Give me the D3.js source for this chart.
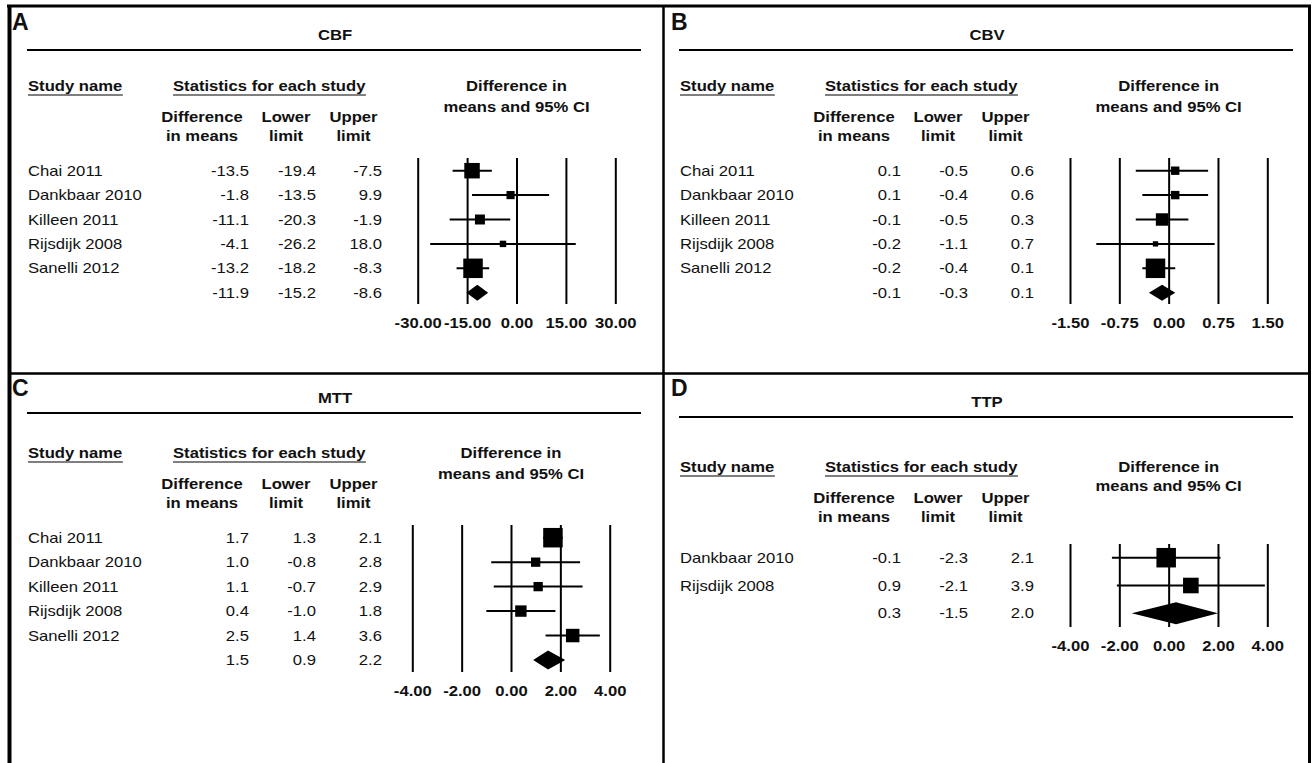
<!DOCTYPE html>
<html>
<head>
<meta charset="utf-8">
<script src="https://cdn.jsdelivr.net/npm/d3@7"></script>
<style>
  body { margin: 0; background: #fff; }
  svg { display: block; font-family: "Liberation Sans", Arial, sans-serif; }
</style>
</head>
<body>
<svg id="chart"></svg>
<script>
// ---- data ----
const studies5 = ["Chai 2011", "Dankbaar 2010", "Killeen 2011", "Rijsdijk 2008", "Sanelli 2012"];
const studies2 = ["Dankbaar 2010", "Rijsdijk 2008"];

// CBF
const cbfDiff = [-13.5, -1.8, -11.1, -4.1, -13.2];
const cbfLower = [-19.4, -13.5, -20.3, -26.2, -18.2];
const cbfUpper = [-7.5, 9.9, -1.9, 18.0, -8.3];
const cbfWeight = [29, 8, 12, 5, 46];
const cbfSummary = [-11.9, -15.2, -8.6]; // estimate, lower, upper
const cbfTicks = [-30, -15, 0, 15, 30];

// CBV
const cbvDiff = [0.1, 0.1, -0.1, -0.2, -0.2];
const cbvLower = [-0.5, -0.4, -0.5, -1.1, -0.4];
const cbvUpper = [0.6, 0.6, 0.3, 0.7, 0.1];
const cbvWeight = [10, 10, 22, 4, 54];
const cbvSummary = [-0.1, -0.3, 0.1];
const cbvTicks = [-1.5, -0.75, 0, 0.75, 1.5];

// MTT
const mttDiff = [1.7, 1.0, 1.1, 0.4, 2.5];
const mttLower = [1.3, -0.8, -0.7, -1.0, 1.4];
const mttUpper = [2.1, 2.8, 2.9, 1.8, 3.6];
const mttWeight = [44, 10, 10, 15, 21];
const mttSummary = [1.5, 0.9, 2.2];
const mttTicks = [-4, -2, 0, 2, 4];

// TTP
const ttpDiff = [-0.1, 0.9];
const ttpLower = [-2.3, -2.1];
const ttpUpper = [2.1, 3.9];
const ttpWeight = [61, 39];
const ttpSummary = [0.3, -1.5, 2.0];
const ttpTicks = [-4, -2, 0, 2, 4];

// ---- layout ----
const W = 1312, H = 763;
const SX = 1.19; // the figure's text is stretched sideways
const loc = d3.formatLocale({decimal: ".", thousands: ",", grouping: [3], currency: ["", ""], minus: "-"});
const f1 = loc.format(".1f"), f2 = loc.format(".2f");

const svg = d3.select("#chart").attr("width", W).attr("height", H);
svg.append("rect").attr("width", W).attr("height", H).attr("fill", "#fff");

function label(g, x, y, s, opt = {}) {
  const t = g.append("text")
    .attr("transform", `translate(${x},${y}) scale(${opt.sx ?? SX},1)`)
    .attr("text-anchor", opt.anchor || "start")
    .attr("font-weight", opt.bold ? "bold" : "normal")
    .attr("font-size", opt.size || 14)
    .attr("fill", "#111")
    .text(s);
  return t;
}

function underlined(g, x, y, s) {
  const t = label(g, x, y, s, {bold: true});
  const w = t.node().getBBox().width * SX;
  g.append("line")
    .attr("x1", x).attr("x2", x + w)
    .attr("y1", y + 4).attr("y2", y + 4)
    .attr("stroke", "#555").attr("stroke-width", 1.5);
}

const panels = [
  {letter: "A", title: "CBF", names: studies5, diff: cbfDiff, lo: cbfLower, hi: cbfUpper, w: cbfWeight,
   sum: cbfSummary, ticks: cbfTicks, ox: 0, oy: 0, plot: [417.7, 615.3], rows: [170.7, 292.7],
   lines: [158, 304], hdr: [91, 112, 122, 141], letterY: 30, titleY: 40, ruleY: 50, dia: 16},
  {letter: "B", title: "CBV", names: studies5, diff: cbvDiff, lo: cbvLower, hi: cbvUpper, w: cbvWeight,
   sum: cbvSummary, ticks: cbvTicks, ox: 652, oy: 0, plot: [1070, 1267.3], rows: [170.7, 292.7],
   lines: [158, 304], hdr: [91, 112, 122, 141], letterY: 30, titleY: 40, ruleY: 50, dia: 16},
  {letter: "C", title: "MTT", names: studies5, diff: mttDiff, lo: mttLower, hi: mttUpper, w: mttWeight,
   sum: mttSummary, ticks: mttTicks, ox: 0, oy: 367, plot: [412.3, 609.7], rows: [537.7, 660],
   lines: [525, 672], hdr: [458, 479, 489, 508], letterY: 396, titleY: 403, ruleY: 413, dia: 19},
  {letter: "D", title: "TTP", names: studies2, diff: ttpDiff, lo: ttpLower, hi: ttpUpper, w: ttpWeight,
   sum: ttpSummary, ticks: ttpTicks, ox: 652, oy: 367, plot: [1070, 1267.3], rows: [557.7, 613.3],
   lines: [544, 627], hdr: [472, 491, 503, 522], letterY: 396, titleY: 407, ruleY: 417, dia: 22}
];

function drawPanel(p) {
  const g = svg.append("g");
  const ox = p.ox;
  const x = d3.scaleLinear().domain([p.ticks[0], p.ticks[p.ticks.length - 1]]).range(p.plot);
  const n = p.names.length;
  const y = d3.scaleLinear().domain([0, n]).range(p.rows);
  const size = d3.scaleSqrt().domain([0, d3.max(p.w)]).range([0, 19.5]);
  const mid = (p.plot[0] + p.plot[1]) / 2;

  // letter, title, rule
  label(g, (ox ? 671 : 12), p.letterY, p.letter, {bold: true, size: 23, sx: 1});
  label(g, ox + 335, p.titleY, p.title, {bold: true, anchor: "middle"});
  g.append("line")
    .attr("x1", ox + 27).attr("x2", ox + 641)
    .attr("y1", p.ruleY).attr("y2", p.ruleY)
    .attr("stroke", "#000").attr("stroke-width", 2);

  // column headers
  underlined(g, ox + 28, p.hdr[0], "Study name");
  underlined(g, ox + 173, p.hdr[0], "Statistics for each study");
  label(g, mid, p.hdr[0], "Difference in", {bold: true, anchor: "middle"});
  label(g, mid, p.hdr[1], "means and 95% CI", {bold: true, anchor: "middle"});
  const cols = [[202, "Difference", "in means"], [286, "Lower", "limit"], [353.5, "Upper", "limit"]];
  cols.forEach(c => {
    label(g, ox + c[0], p.hdr[2], c[1], {bold: true, anchor: "middle"});
    label(g, ox + c[0], p.hdr[3], c[2], {bold: true, anchor: "middle"});
  });

  // table rows
  const valX = [249, 316, 382];
  const rows = p.names.map((s, i) => ({name: s, d: p.diff[i], lo: p.lo[i], hi: p.hi[i], w: p.w[i], i}));
  rows.forEach(r => {
    const yy = y(r.i) + 5;
    label(g, ox + 28, yy, r.name);
    [r.d, r.lo, r.hi].forEach((v, k) => label(g, ox + valX[k], yy, f1(v), {anchor: "end"}));
  });
  const ys = y(n) + 5;
  p.sum.forEach((v, k) => label(g, ox + valX[k], ys, f1(v), {anchor: "end"}));

  // vertical reference lines + tick labels
  const axis = d3.axisBottom(x)
    .tickValues(p.ticks)
    .tickFormat(f2)
    .tickSize(p.lines[1] - p.lines[0])
    .tickPadding(14);
  const ag = g.append("g").attr("transform", `translate(0,${p.lines[0]})`).call(axis);
  ag.select(".domain").remove();
  ag.selectAll(".tick line").attr("stroke", "#000").attr("stroke-width", 2);
  ag.selectAll(".tick text")
    .attr("fill", "#111")
    .attr("font-size", 14)
    .attr("font-weight", "bold")
    .attr("font-family", "'Liberation Sans', Arial, sans-serif")
    .attr("transform", `scale(${SX},1)`);

  // confidence intervals
  g.selectAll(".ci").data(rows).join("line")
    .attr("x1", d => x(d.lo)).attr("x2", d => x(d.hi))
    .attr("y1", d => y(d.i)).attr("y2", d => y(d.i))
    .attr("stroke", "#000").attr("stroke-width", 2);

  // weighted squares
  g.selectAll(".sq").data(rows).join("rect")
    .attr("x", d => x(d.d) - size(d.w) / 2)
    .attr("y", d => y(d.i) - size(d.w) / 2)
    .attr("width", d => size(d.w))
    .attr("height", d => size(d.w))
    .attr("fill", "#000");

  // summary diamond
  const yd = y(n), h = p.dia / 2;
  g.append("path")
    .attr("d", `M${x(p.sum[1])},${yd}L${x(p.sum[0])},${yd - h}L${x(p.sum[2])},${yd}L${x(p.sum[0])},${yd + h}Z`)
    .attr("fill", "#000");
}

panels.forEach(drawPanel);

// frame and dividers
const frame = svg.append("g").attr("stroke", "#000");
frame.append("line").attr("x1", 7).attr("x2", 1311).attr("y1", 6).attr("y2", 6).attr("stroke-width", 3);
frame.append("line").attr("x1", 9.5).attr("x2", 9.5).attr("y1", 5).attr("y2", H).attr("stroke-width", 4);
frame.append("line").attr("x1", 1309.5).attr("x2", 1309.5).attr("y1", 5).attr("y2", H).attr("stroke-width", 3);
frame.append("line").attr("x1", 663.5).attr("x2", 663.5).attr("y1", 6).attr("y2", H).attr("stroke-width", 2.5);
frame.append("line").attr("x1", 9.5).attr("x2", 1309.5).attr("y1", 373.5).attr("y2", 373.5).attr("stroke-width", 2.5);
</script>
</body>
</html>
